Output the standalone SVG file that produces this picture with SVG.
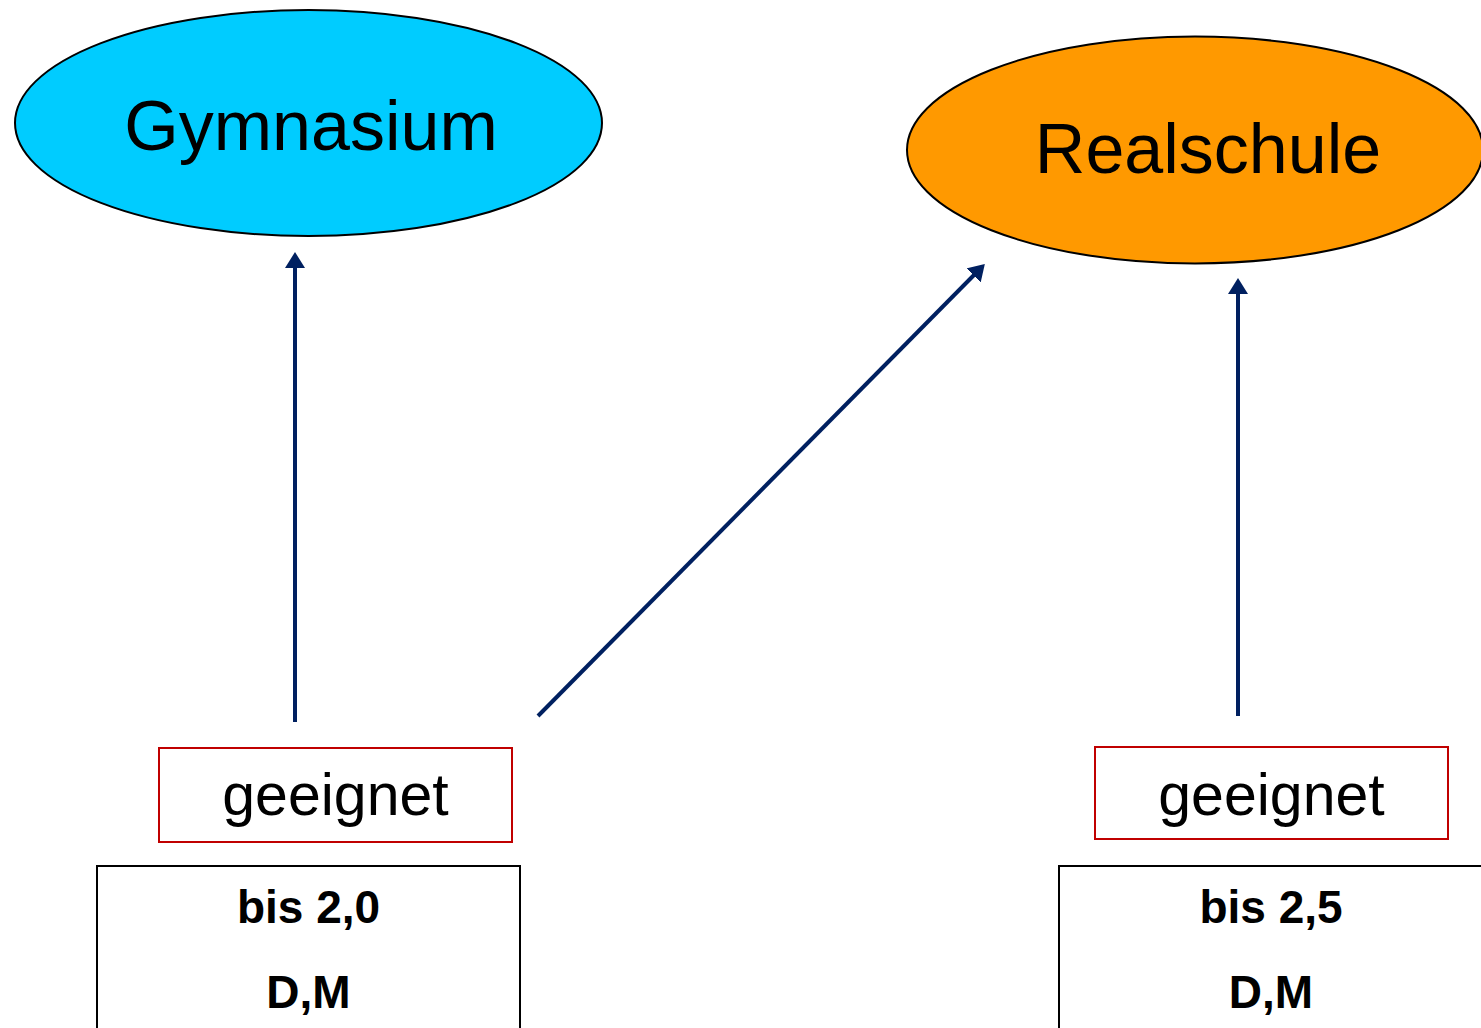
<svg xmlns="http://www.w3.org/2000/svg" width="1481" height="1028" viewBox="0 0 1481 1028">
<style>
.t{font-family:"Liberation Sans",Arial,sans-serif;fill:#000;text-anchor:middle}
.big{font-size:70px}
.mid{font-size:59px}
.b{font-size:46px;font-weight:bold}
.red{fill:#fff;stroke:#c00000;stroke-width:2}
.blk{fill:#fff;stroke:#000;stroke-width:2}
.con{stroke:#002060;stroke-width:4;fill:none;marker-end:url(#ah)}
</style>
<defs>
<marker id="ah" markerWidth="4" markerHeight="5" refX="0.5" refY="2.5" orient="auto" markerUnits="strokeWidth" viewBox="0 0 4 5">
<path d="M0,0 L4,2.5 L0,5 Z" fill="#002060"/>
</marker>
</defs>
<rect width="1481" height="1028" fill="#fff"/>
<g id="gymnasium">
<ellipse cx="308.5" cy="123" rx="293.5" ry="113" fill="#00ccff" stroke="#000" stroke-width="2"/>
<text class="t big" x="311" y="150">Gymnasium</text>
</g>
<g id="realschule">
<ellipse cx="1195" cy="150" rx="288" ry="113.5" fill="#ff9900" stroke="#000" stroke-width="2"/>
<text class="t big" x="1208" y="173">Realschule</text>
</g>
<g id="geeignet1">
<rect class="red" x="159" y="748" width="353" height="94"/>
<text class="t mid" x="335.5" y="815">geeignet</text>
</g>
<g id="geeignet2">
<rect class="red" x="1095" y="747" width="353" height="92"/>
<text class="t mid" x="1271.5" y="815">geeignet</text>
</g>
<g id="grade1">
<rect class="blk" x="97" y="866" width="423" height="170"/>
<text class="t b" x="308.5" y="923">bis 2,0</text>
<text class="t b" x="308.5" y="1008">D,M</text>
</g>
<g id="grade2">
<rect class="blk" x="1059" y="866" width="430" height="170"/>
<text class="t b" x="1271" y="923">bis 2,5</text>
<text class="t b" x="1271" y="1008">D,M</text>
</g>
<g id="connectors">
<path class="con" d="M295,722 L295,266"/>
<path class="con" d="M538,716 L975,274"/>
<path class="con" d="M1238,716 L1238,292"/>
</g>
</svg>
